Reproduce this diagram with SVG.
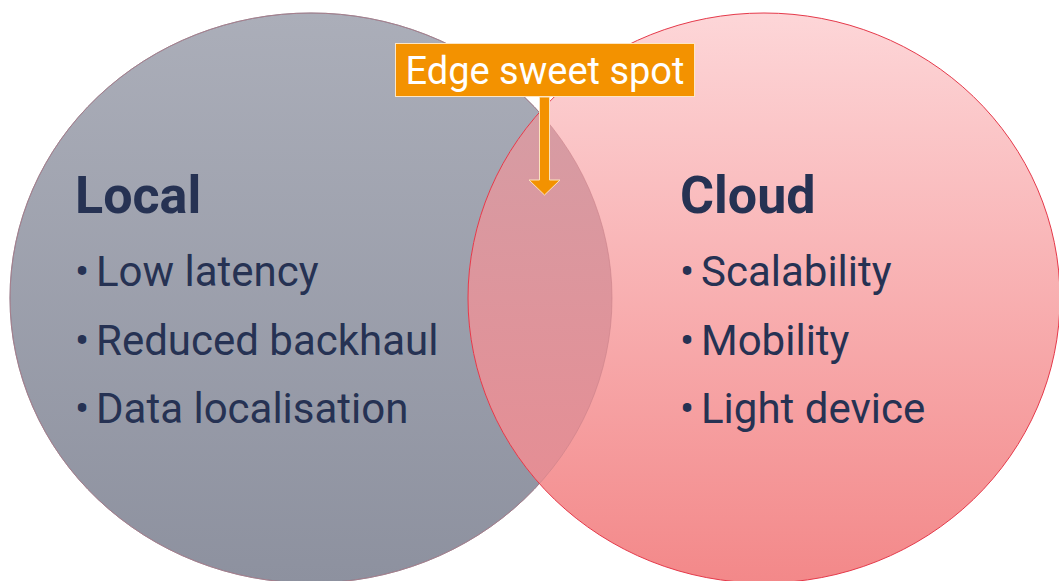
<svg xmlns="http://www.w3.org/2000/svg" width="1059" height="581" viewBox="0 0 1059 581">
<style>
.title{font-family:Roboto,"Liberation Sans",sans-serif;font-weight:700;font-size:52px;fill:#263253}
.item{font-family:Roboto,"Liberation Sans",sans-serif;font-size:42px;fill:#263253}
.lbl{font-family:Roboto,"Liberation Sans",sans-serif;font-size:38px;fill:#ffffff}
</style>
<defs>
<linearGradient id="gGray" gradientUnits="userSpaceOnUse" x1="0" y1="13" x2="0" y2="583">
<stop offset="0" stop-color="#abaeb9"/><stop offset="1" stop-color="#8d919f"/>
</linearGradient>
<linearGradient id="gRed" gradientUnits="userSpaceOnUse" x1="0" y1="13" x2="0" y2="583">
<stop offset="0" stop-color="#fdd6d8"/><stop offset="1" stop-color="#f38889"/>
</linearGradient>
<linearGradient id="gOver" gradientUnits="userSpaceOnUse" x1="0" y1="13" x2="0" y2="583">
<stop offset="0" stop-color="#d2a0a8"/><stop offset="1" stop-color="#e98a90"/>
</linearGradient>
<clipPath id="clipLocal"><ellipse cx="311" cy="298" rx="301" ry="285"/></clipPath>
</defs>
<g id="local">
<ellipse cx="311" cy="298" rx="301" ry="285" fill="url(#gGray)" stroke="#737a8e" stroke-width="1"/>
</g>
<g id="cloud">
<ellipse cx="764" cy="298" rx="296" ry="285" fill="url(#gRed)"/>
<ellipse cx="764" cy="298" rx="296" ry="285" fill="url(#gOver)" clip-path="url(#clipLocal)"/>
<ellipse cx="311" cy="298" rx="301" ry="285" fill="none" stroke="#c98088" stroke-width="1" opacity="0.6"/>
<ellipse cx="764" cy="298" rx="296" ry="285" fill="none" stroke="#e5394a" stroke-width="1"/>
</g>
<g id="local-text">
<text class="title" x="75" y="213">Local</text>
<text class="item" x="75" y="286">•</text><text class="item" x="96" y="286">Low latency</text>
<text class="item" x="75" y="355">•</text><text class="item" x="96" y="355">Reduced backhaul</text>
<text class="item" x="75" y="423">•</text><text class="item" x="96" y="423">Data localisation</text>
</g>
<g id="cloud-text">
<text class="title" x="680" y="213">Cloud</text>
<text class="item" x="680" y="286">•</text><text class="item" x="701" y="286">Scalability</text>
<text class="item" x="680" y="355">•</text><text class="item" x="701" y="355">Mobility</text>
<text class="item" x="680" y="423">•</text><text class="item" x="701" y="423">Light device</text>
</g>
<g id="connectors">
<polygon points="539.5,97 549.5,97 549.5,180 560,180 544.5,195 529,180 539.5,180" fill="#f39200" stroke="#fbe2bd" stroke-width="1"/>
</g>
<g id="edge-label">
<rect x="395.5" y="43.5" width="299" height="53" fill="#f39200" stroke="#fde6c4" stroke-width="1"/>
<text class="lbl" x="545" y="84" text-anchor="middle">Edge sweet spot</text>
</g>
</svg>
